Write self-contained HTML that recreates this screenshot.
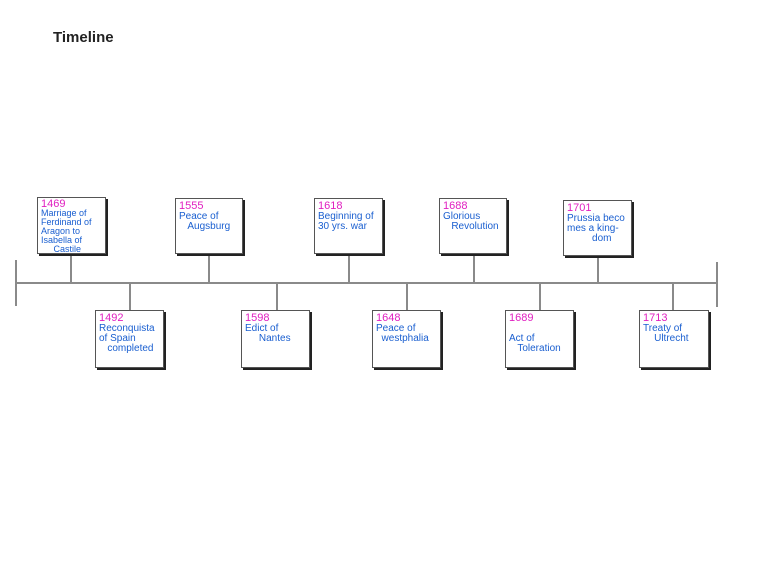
<!DOCTYPE html>
<html><head><style>
body{margin:0;width:768px;height:561px;background:#fff;position:relative;overflow:hidden;font-family:"Liberation Sans",sans-serif}
.t{position:absolute;left:53px;top:29px;font-size:15px;font-weight:bold;color:#222}
.l{position:absolute;background:#8a8a8a}
.b{position:absolute;background:#fff;border:1px solid #555;box-shadow:2px 2px 0 #222;font-size:10px;line-height:10px;color:#1a5fd0;padding:2px 3px;box-sizing:border-box;overflow:hidden}
.y{color:#e020c0;font-size:11px;display:block;margin-bottom:1px}
</style></head><body>
<div class="t">Timeline</div>
<div class="l" style="left:16px;top:282px;width:702px;height:2px"></div>
<div class="l" style="left:15px;top:260px;width:2px;height:46px"></div>
<div class="l" style="left:716px;top:262px;width:2px;height:45px"></div>
<div class="l" style="left:70px;top:254px;width:2px;height:29px"></div>
<div class="l" style="left:208px;top:254px;width:2px;height:29px"></div>
<div class="l" style="left:348px;top:254px;width:2px;height:29px"></div>
<div class="l" style="left:473px;top:254px;width:2px;height:29px"></div>
<div class="l" style="left:597px;top:256px;width:2px;height:27px"></div>
<div class="l" style="left:129px;top:283px;width:2px;height:27px"></div>
<div class="l" style="left:276px;top:283px;width:2px;height:27px"></div>
<div class="l" style="left:406px;top:283px;width:2px;height:27px"></div>
<div class="l" style="left:539px;top:283px;width:2px;height:27px"></div>
<div class="l" style="left:672px;top:283px;width:2px;height:27px"></div>

<div class="b" style="left:37px;top:197px;width:69px;height:57px;font-size:9px;line-height:9px"><span class="y" style="margin-bottom:0">1469</span>Marriage of Ferdinand of Aragon to Isabella of &nbsp;&nbsp;&nbsp;&nbsp;&nbsp;Castile</div>
<div class="b" style="left:175px;top:198px;width:68px;height:56px"><span class="y">1555</span>Peace of<br>&nbsp;&nbsp;&nbsp;Augsburg</div>
<div class="b" style="left:314px;top:198px;width:69px;height:56px"><span class="y">1618</span>Beginning of<br>30 yrs. war</div>
<div class="b" style="left:439px;top:198px;width:68px;height:56px"><span class="y">1688</span>Glorious<br>&nbsp;&nbsp;&nbsp;Revolution</div>
<div class="b" style="left:563px;top:200px;width:69px;height:56px"><span class="y">1701</span>Prussia beco mes a king-<br>&nbsp;&nbsp;&nbsp;&nbsp;&nbsp;&nbsp;&nbsp;&nbsp;&nbsp;dom</div>

<div class="b" style="left:95px;top:310px;width:69px;height:58px"><span class="y">1492</span>Reconquista of Spain<br>&nbsp;&nbsp;&nbsp;completed</div>
<div class="b" style="left:241px;top:310px;width:69px;height:58px"><span class="y">1598</span>Edict of<br>&nbsp;&nbsp;&nbsp;&nbsp;&nbsp;Nantes</div>
<div class="b" style="left:372px;top:310px;width:69px;height:58px"><span class="y">1648</span>Peace of<br>&nbsp;&nbsp;westphalia</div>
<div class="b" style="left:505px;top:310px;width:69px;height:58px"><span class="y">1689</span><br>Act of<br>&nbsp;&nbsp;&nbsp;Toleration</div>
<div class="b" style="left:639px;top:310px;width:70px;height:58px"><span class="y">1713</span>Treaty of<br>&nbsp;&nbsp;&nbsp;&nbsp;Ultrecht</div>
</body></html>
